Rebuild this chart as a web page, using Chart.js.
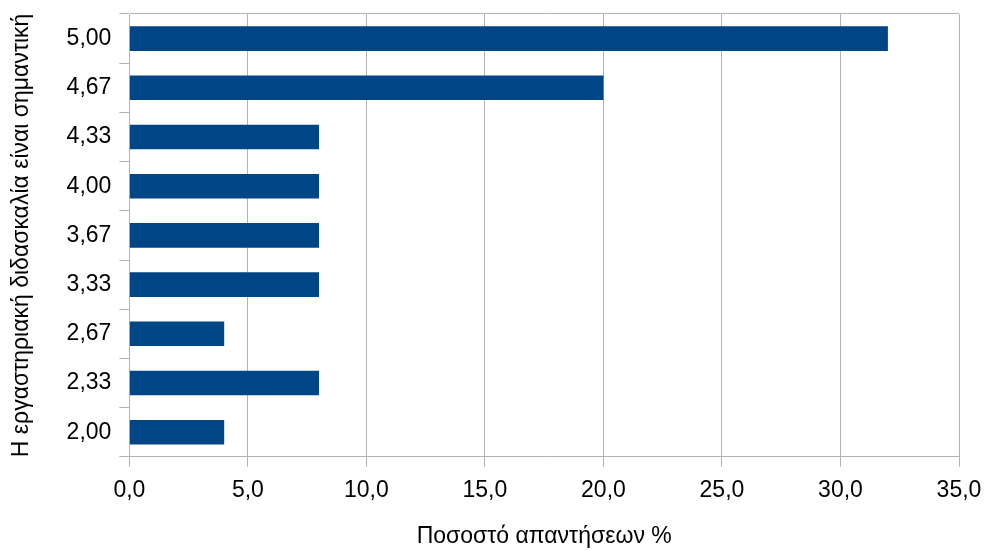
<!DOCTYPE html>
<html>
<head>
<meta charset="utf-8">
<script src="https://cdn.jsdelivr.net/npm/chart.js@4/dist/chart.umd.min.js"></script>
<style>
  html, body { margin: 0; padding: 0; background: #fff; }
  #wrap { width: 985px; height: 550px; }
</style>
</head>
<body>
<div id="wrap"><canvas id="chart"></canvas></div>
<script>
const categories = ["5,00", "4,67", "4,33", "4,00", "3,67", "3,33", "2,67", "2,33", "2,00"];
const percentages = [32, 20, 8, 8, 8, 8, 4, 8, 4];
const xTitle = "Ποσοστό απαντήσεων %";
const yTitle = "Η εργαστηριακή διδασκαλία είναι σημαντική";

const gridGray = "#b3b3b3";
const font = { family: "'Liberation Sans', Arial, sans-serif", size: 23 };

new Chart(document.getElementById("chart"), {
    type: "bar",
    data: {
        labels: categories,
        datasets: [{
            data: percentages,
            backgroundColor: "#004586",
            barPercentage: 0.5,
            categoryPercentage: 1
        }]
    },
    options: {
        indexAxis: "y",
        responsive: true,
        maintainAspectRatio: false,
        animation: false,
        layout: { padding: { top: 14, right: 0, left: 4, bottom: 0 } },
        plugins: {
            legend: { display: false },
            tooltip: { enabled: false }
        },
        scales: {
            x: {
                min: 0,
                max: 35,
                // let the last tick label run up to the canvas edge
                afterFit: s => { s.paddingRight = 26; },
                ticks: {
                    stepSize: 5,
                    color: "#000",
                    font: font,
                    padding: 10,
                    callback: v => v.toFixed(1).replace(".", ",")
                },
                grid: { color: gridGray, tickLength: 10 },
                border: { color: gridGray },
                title: { display: true, text: xTitle, color: "#000", font: font, padding: { top: 8, bottom: 0 } }
            },
            y: {
                offset: true,
                afterFit: s => { s.paddingTop = 0; s.paddingBottom = 0; },
                ticks: { color: "#000", font: font, padding: 8 },
                grid: {
                    offset: true,
                    tickLength: 10,
                    tickColor: gridGray,
                    // only the top edge draws across the plot, the rest are outer ticks
                    color: ctx => ctx.index === 0 ? gridGray : "rgba(0,0,0,0)"
                },
                border: { color: gridGray },
                title: { display: true, text: yTitle, color: "#000", font: font, padding: { bottom: 23 } }
            }
        }
    }
});
</script>
</body>
</html>
